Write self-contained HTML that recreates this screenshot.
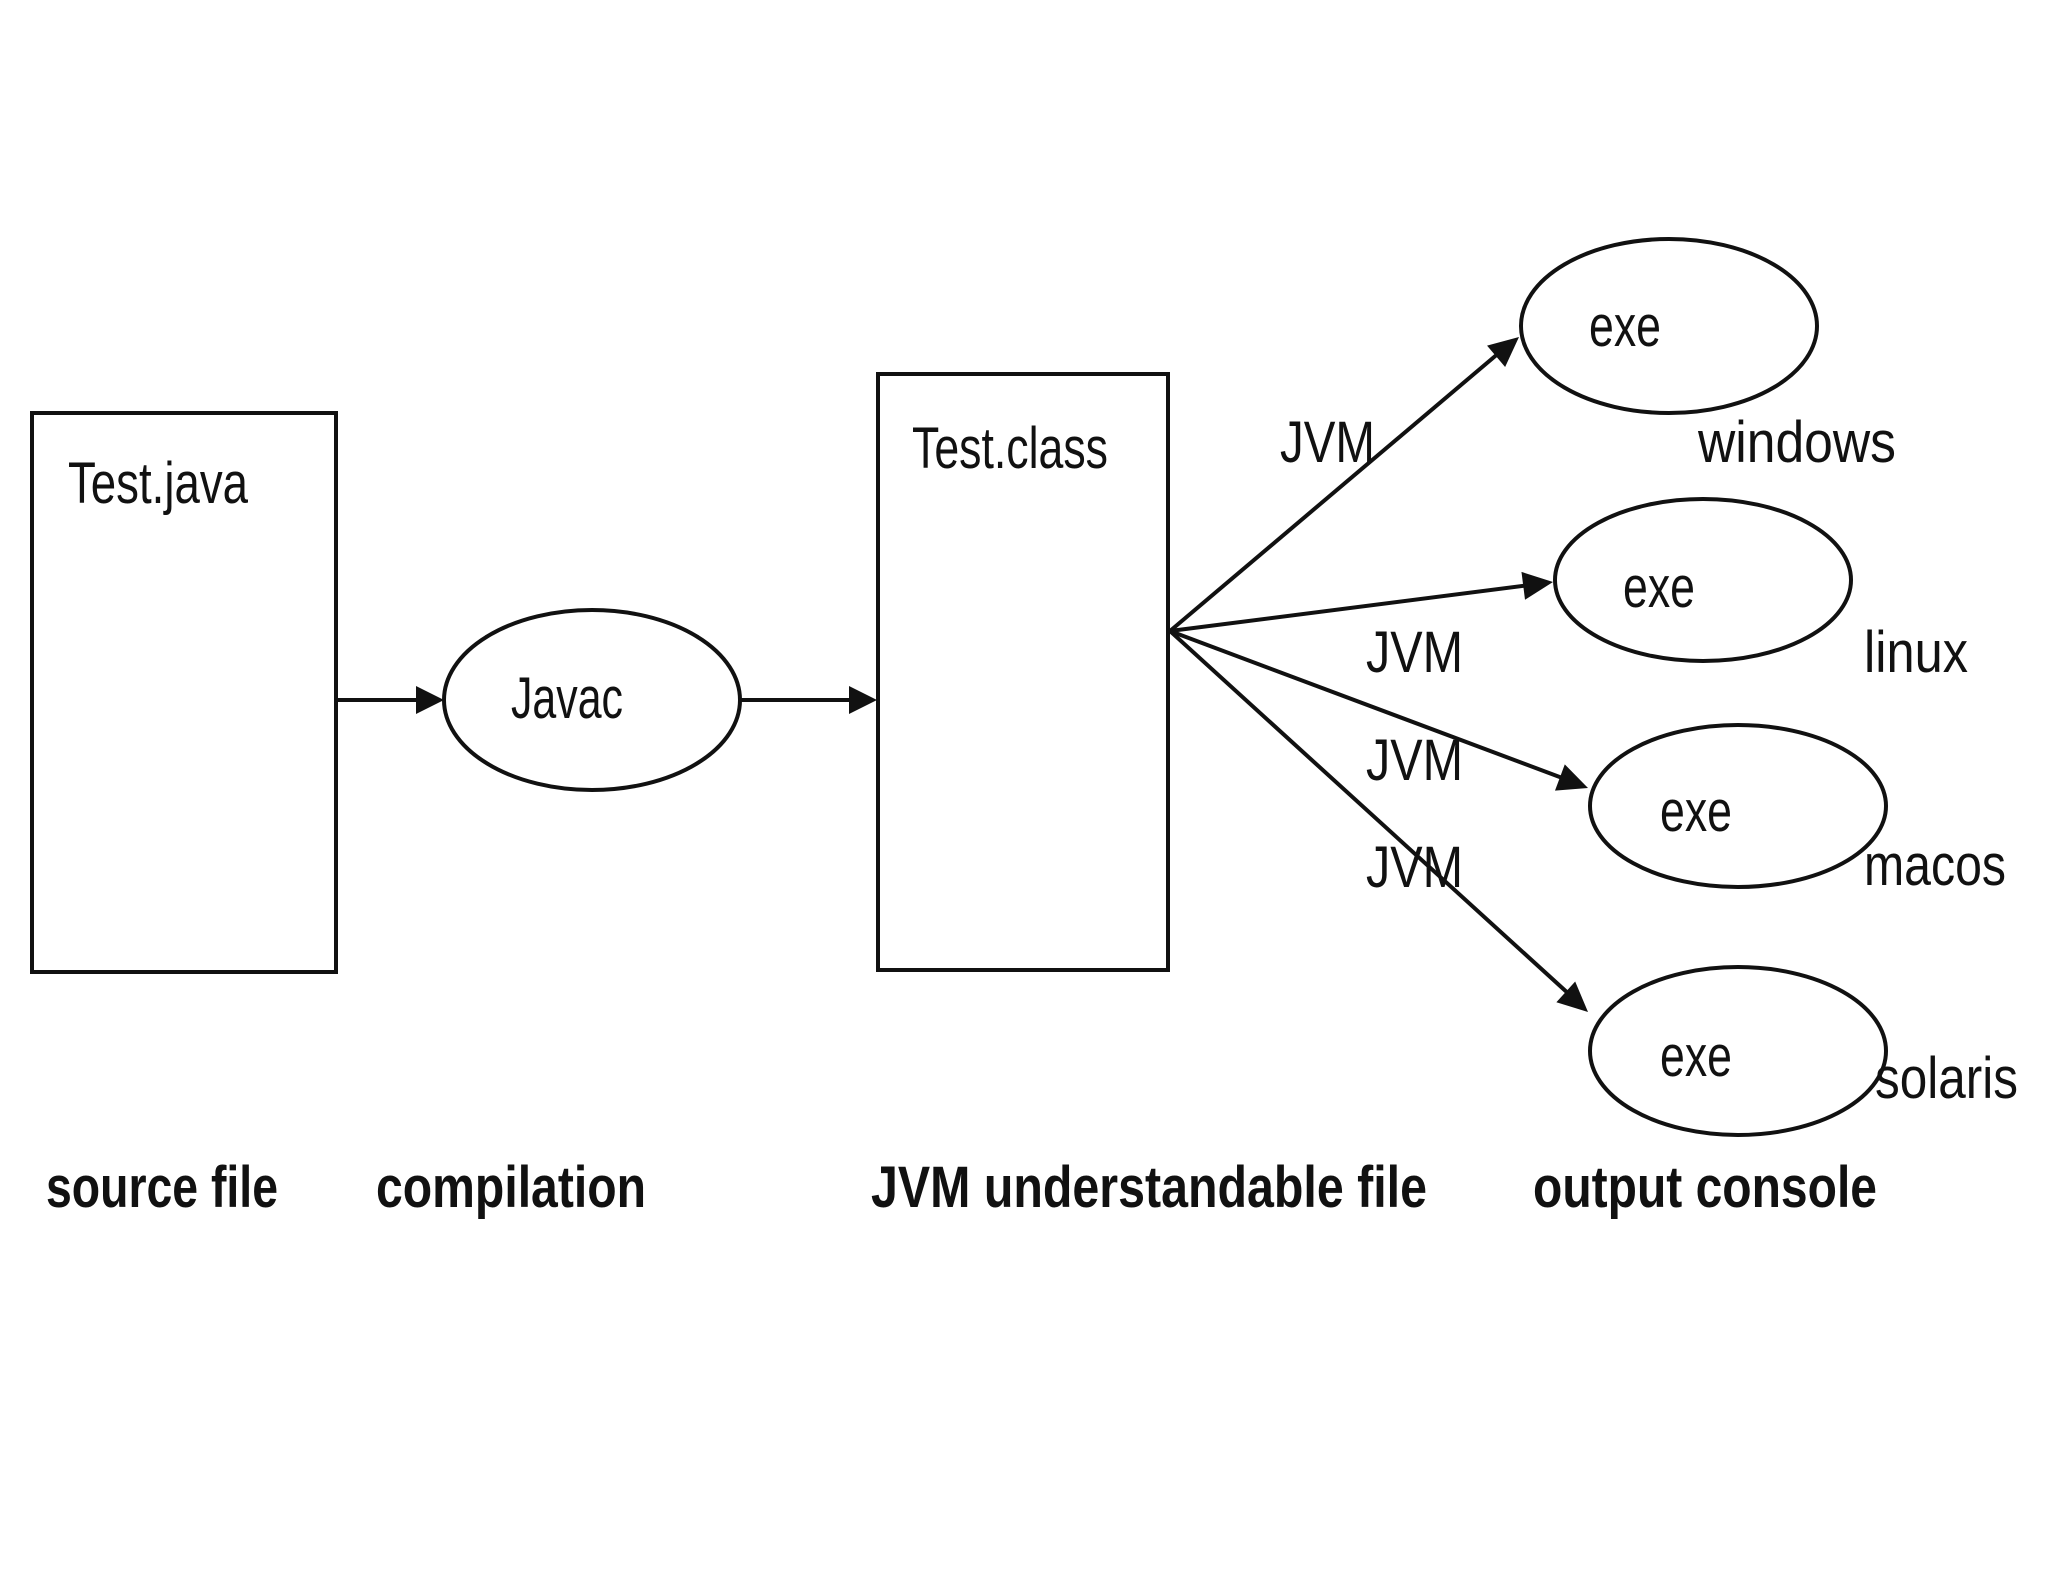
<!DOCTYPE html>
<html><head><meta charset="utf-8"><style>
html,body{margin:0;padding:0;background:#fff;}
svg{display:block;}
text{font-family:"Liberation Sans",sans-serif;fill:#111;}
</style></head><body>
<svg width="2048" height="1582" viewBox="0 0 2048 1582" xmlns="http://www.w3.org/2000/svg">
<defs>
<marker id="a" markerWidth="10" markerHeight="10" refX="9" refY="5" orient="auto" markerUnits="userSpaceOnUse" viewBox="0 0 10 10">
</marker>
</defs>
<g stroke="#111" stroke-width="4" fill="none">
<rect x="32" y="413" width="304" height="559"/>
<rect x="878" y="374" width="290" height="596"/>
<ellipse cx="592" cy="700" rx="148" ry="90"/>
<ellipse cx="1669" cy="326" rx="148" ry="87"/>
<ellipse cx="1703" cy="580" rx="148" ry="81"/>
<ellipse cx="1738" cy="806" rx="148" ry="81"/>
<ellipse cx="1738" cy="1051" rx="148" ry="84"/>
<line x1="336" y1="700" x2="420" y2="700"/>
<line x1="739" y1="700" x2="852" y2="700"/>
<line x1="1170" y1="631" x2="1500" y2="352"/>
<line x1="1170" y1="631" x2="1530" y2="585"/>
<line x1="1170" y1="631" x2="1565" y2="779"/>
<line x1="1170" y1="631" x2="1570" y2="995"/>
</g>
<rect x="0" y="225" width="2048" height="12" fill="#fff"/>
<g fill="#111">
<polygon points="444,700 416,686 416,714"/>
<polygon points="877,700 849,686 849,714"/>
<g transform="translate(1519,337) rotate(-40.2)"><polygon points="0,0 -30,-14 -30,14"/></g>
<g transform="translate(1553,582) rotate(-7.3)"><polygon points="0,0 -30,-14 -30,14"/></g>
<g transform="translate(1588,788) rotate(20.5)"><polygon points="0,0 -30,-14 -30,14"/></g>
<g transform="translate(1588,1012) rotate(42.2)"><polygon points="0,0 -30,-14 -30,14"/></g>
</g>
<g font-size="58">
<text x="68" y="503" textLength="180" lengthAdjust="spacingAndGlyphs">Test.java</text>
<text x="912" y="468" textLength="196" lengthAdjust="spacingAndGlyphs">Test.class</text>
<text x="511" y="718" textLength="112" lengthAdjust="spacingAndGlyphs">Javac</text>
<text x="1589" y="346" textLength="72" lengthAdjust="spacingAndGlyphs">exe</text>
<text x="1623" y="607" textLength="72" lengthAdjust="spacingAndGlyphs">exe</text>
<text x="1660" y="831" textLength="72" lengthAdjust="spacingAndGlyphs">exe</text>
<text x="1660" y="1076" textLength="72" lengthAdjust="spacingAndGlyphs">exe</text>
<text x="1698" y="462" textLength="198" lengthAdjust="spacingAndGlyphs">windows</text>
<text x="1864" y="672" textLength="104" lengthAdjust="spacingAndGlyphs">linux</text>
<text x="1864" y="885" textLength="142" lengthAdjust="spacingAndGlyphs">macos</text>
<text x="1875" y="1098" textLength="143" lengthAdjust="spacingAndGlyphs">solaris</text>
<text x="1280" y="462" textLength="95" lengthAdjust="spacingAndGlyphs">JVM</text>
<text x="1366" y="672" textLength="97" lengthAdjust="spacingAndGlyphs">JVM</text>
<text x="1366" y="780" textLength="97" lengthAdjust="spacingAndGlyphs">JVM</text>
<text x="1366" y="887" textLength="97" lengthAdjust="spacingAndGlyphs">JVM</text>
</g>
<g font-size="58" font-weight="bold">
<text x="46" y="1207" textLength="232" lengthAdjust="spacingAndGlyphs">source file</text>
<text x="376" y="1207" textLength="270" lengthAdjust="spacingAndGlyphs">compilation</text>
<text x="871" y="1207" textLength="556" lengthAdjust="spacingAndGlyphs">JVM understandable file</text>
<text x="1533" y="1207" textLength="344" lengthAdjust="spacingAndGlyphs">output console</text>
</g>
</svg>
</body></html>
